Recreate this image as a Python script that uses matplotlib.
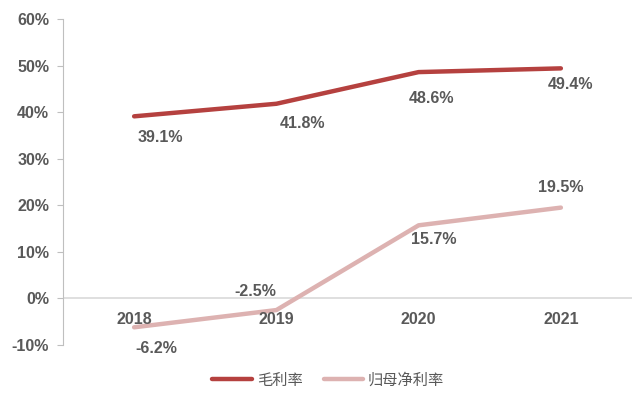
import matplotlib
matplotlib.use("Agg")
import matplotlib.pyplot as plt
import numpy as np

years = ["2018", "2019", "2020", "2021"]
gross_margin = [39.1, 41.8, 48.6, 49.4]
net_margin = [-6.2, -2.5, 15.7, 19.5]
yticks = [-10, 0, 10, 20, 30, 40, 50, 60]

plt.rcParams['font.family'] = ['Liberation Sans', 'Noto Sans CJK SC', 'DejaVu Sans']
txt = '#595959'
c1 = '#B5413F'
c2 = '#DDB2B1'
fs = 11.5

fig = plt.figure(figsize=(6.35, 3.94), dpi=100)
ax = fig.add_axes([63/635, 1-345/394, 569/635, 326/394])
x = np.arange(len(years))

ax.plot(x, gross_margin, color=c1, lw=3.2, solid_capstyle='round', label='毛利率')
ax.plot(x, net_margin, color=c2, lw=3.2, solid_capstyle='round', label='归母净利率')

ax.set_xlim(-0.5, 3.5)
ax.set_ylim(-10, 60)
ax.set_yticks(yticks)
ax.set_yticklabels([f"{v}%" for v in yticks], fontsize=fs, fontweight='bold', color=txt)
ax.tick_params(axis='y', length=4, color='#BFBFBF', pad=6)
ax.set_xticks([])

for s in ['top', 'right', 'bottom']:
    ax.spines[s].set_visible(False)
ax.spines['left'].set_color('#BFBFBF')
ax.axhline(0, color='#D9D9D9', lw=1.2, zorder=0)

# category labels sit under the zero line
for i, y in enumerate(years):
    ax.annotate(y, (i, 0), xytext=(0, -15), textcoords='offset points',
                ha='center', va='center', fontsize=fs, fontweight='bold', color=txt)

# label offsets in pixels (dx, dy), as placed in the original
px = 0.72
gross_off = [(26, -21), (26, -20), (13, -26), (10, -16)]
net_off = [(22, -21), (-21, 19), (15, -14), (0, 20)]
for i, v in enumerate(gross_margin):
    dx, dy = gross_off[i]
    ax.annotate(f"{v}%", (i, v), xytext=(dx*px, dy*px), textcoords='offset points',
                ha='center', va='center', fontsize=fs, fontweight='bold', color=txt)
for i, v in enumerate(net_margin):
    dx, dy = net_off[i]
    ax.annotate(f"{v}%", (i, v), xytext=(dx*px, dy*px), textcoords='offset points',
                ha='center', va='center', fontsize=fs, fontweight='bold', color=txt)

fig.legend(loc='center', bbox_to_anchor=(0.517, 1-380/394), ncol=2, frameon=False,
           prop={'family': ['Noto Sans CJK SC'], 'size': 11}, labelcolor=txt,
           handlelength=2.6, columnspacing=1.4, handletextpad=0.3)

fig.savefig("out.png", dpi=100)
